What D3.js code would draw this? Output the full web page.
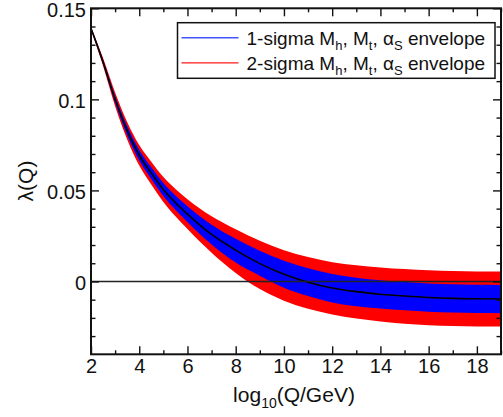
<!DOCTYPE html>
<html>
<head>
<meta charset="utf-8">
<script src="https://cdn.jsdelivr.net/npm/d3@7"></script>
<style>
  html, body { margin: 0; padding: 0; background: #fff; }
  svg { display: block; font-family: "Liberation Sans", Arial, Helvetica, sans-serif; }
</style>
</head>
<body>
<svg id="chart" width="503" height="417"></svg>
<script>
// Running quartic coupling lambda(Q) versus log10(Q/GeV)
const logQ = [2, 2.5, 3, 3.5, 4, 4.5, 5, 5.5, 6, 7, 8, 9, 10, 11, 12, 13, 14, 15, 16, 17, 18, 19];
const lambdaCentral = [0.139, 0.1205, 0.100, 0.0828, 0.0693, 0.0595, 0.0505, 0.0433, 0.0370, 0.0258, 0.0172, 0.0098, 0.0040, -0.0004, -0.0036, -0.0056, -0.0070, -0.0080, -0.0088, -0.0093, -0.0095, -0.0096];
const oneSigmaHigh = [0.1394, 0.1216, 0.1019, 0.0853, 0.0722, 0.0627, 0.0541, 0.0472, 0.0413, 0.0311, 0.0234, 0.0168, 0.0114, 0.0072, 0.0041, 0.0021, 0.0007, -0.0003, -0.0011, -0.0016, -0.0018, -0.0019];
const oneSigmaLow = [0.1386, 0.1194, 0.0981, 0.0803, 0.0664, 0.0563, 0.0469, 0.0394, 0.0327, 0.0203, 0.0104, 0.0032, -0.0034, -0.0080, -0.0115, -0.0136, -0.0149, -0.0158, -0.0166, -0.0171, -0.0173, -0.0174];
const twoSigmaHigh = [0.1398, 0.1227, 0.1038, 0.0876, 0.0749, 0.0657, 0.0573, 0.0508, 0.0452, 0.0358, 0.0287, 0.0224, 0.0172, 0.0134, 0.0106, 0.0089, 0.0077, 0.0068, 0.0061, 0.0057, 0.0055, 0.0054];
const twoSigmaLow = [0.1382, 0.1183, 0.0962, 0.0780, 0.0637, 0.0533, 0.0437, 0.0358, 0.0288, 0.0158, 0.0047, -0.0042, -0.0106, -0.0150, -0.0181, -0.0204, -0.0220, -0.0232, -0.0240, -0.0245, -0.0247, -0.0248];

const xMajorTicks = [2, 4, 6, 8, 10, 12, 14, 16, 18];
const xMinorTicks = [3, 5, 7, 9, 11, 13, 15, 17, 19];
const yMajorTicks = [0, 0.05, 0.1, 0.15];
const yMajorLabels = ["0", "0.05", "0.1", "0.15"];
const yMinorTicks = [-0.03, -0.02, -0.01, 0.01, 0.02, 0.03, 0.04, 0.06, 0.07, 0.08, 0.09, 0.11, 0.12, 0.13, 0.14];

const legendEntries = [
  { lead: "1-sigma M", color: "#4455ff", width: 1.5 },
  { lead: "2-sigma M", color: "#ff1a1a", width: 1.2 }
];

const svg = d3.select("#chart");
const x = d3.scaleLinear().domain([2, 19]).range([91, 501]);
const y = d3.scaleLinear().domain([-0.04, 0.15]).range([354.3, 8.3]);

const rows = logQ.map((q, i) => ({
  q, c: lambdaCentral[i],
  b1: oneSigmaLow[i], t1: oneSigmaHigh[i],
  b2: twoSigmaLow[i], t2: twoSigmaHigh[i]
}));

svg.append("defs").append("clipPath").attr("id", "plotClip")
  .append("rect")
  .attr("x", x(2)).attr("y", y(0.15))
  .attr("width", x(19) - x(2)).attr("height", y(-0.04) - y(0.15));

const plot = svg.append("g").attr("clip-path", "url(#plotClip)");
const curve = d3.curveMonotoneX;

plot.append("path").datum(rows)
  .attr("fill", "#ff0000")
  .attr("d", d3.area().curve(curve).x(d => x(d.q)).y0(d => y(d.b2)).y1(d => y(d.t2)));

plot.append("path").datum(rows)
  .attr("fill", "#0000ff")
  .attr("d", d3.area().curve(curve).x(d => x(d.q)).y0(d => y(d.b1)).y1(d => y(d.t1)));

plot.append("path").datum(rows)
  .attr("fill", "none").attr("stroke", "#000").attr("stroke-width", 1.6)
  .attr("d", d3.line().curve(curve).x(d => x(d.q)).y(d => y(d.c)));

// zero reference line
plot.append("line")
  .attr("x1", x(2)).attr("x2", x(19))
  .attr("y1", y(0)).attr("y2", y(0))
  .attr("stroke", "#222").attr("stroke-width", 1.4);

// axes with inward ticks on all four sides
function styleAxis(g) {
  g.select(".domain").remove();
  g.selectAll(".tick line").attr("stroke", "#111").attr("stroke-width", 1.4);
  g.selectAll(".tick text").attr("fill", "#111").style("font-size", "20px")
    .style("font-family", "'Liberation Sans', Arial, sans-serif");
}

svg.append("g").attr("transform", `translate(0,${y(-0.04)})`)
  .call(d3.axisBottom(x).tickValues(xMajorTicks).tickSize(-8).tickPadding(5).tickFormat(d3.format("d")))
  .call(styleAxis);
svg.append("g").attr("transform", `translate(0,${y(-0.04)})`)
  .call(d3.axisBottom(x).tickValues(xMinorTicks).tickSize(-4).tickFormat(""))
  .call(styleAxis);
svg.append("g").attr("transform", `translate(0,${y(0.15)})`)
  .call(d3.axisTop(x).tickValues(xMajorTicks).tickSize(-8).tickFormat(""))
  .call(styleAxis);
svg.append("g").attr("transform", `translate(0,${y(0.15)})`)
  .call(d3.axisTop(x).tickValues(xMinorTicks).tickSize(-4).tickFormat(""))
  .call(styleAxis);

svg.append("g").attr("transform", `translate(${x(2)},0)`)
  .call(d3.axisLeft(y).tickValues(yMajorTicks).tickSize(-8).tickPadding(5)
    .tickFormat((d, i) => yMajorLabels[i]))
  .call(styleAxis)
  .call(g => g.selectAll(".tick text").attr("dy", "0.4em"));
svg.append("g").attr("transform", `translate(${x(2)},0)`)
  .call(d3.axisLeft(y).tickValues(yMinorTicks).tickSize(-4.5).tickFormat(""))
  .call(styleAxis);
svg.append("g").attr("transform", `translate(${x(19)},0)`)
  .call(d3.axisRight(y).tickValues(yMajorTicks).tickSize(-8).tickFormat(""))
  .call(styleAxis);
svg.append("g").attr("transform", `translate(${x(19)},0)`)
  .call(d3.axisRight(y).tickValues(yMinorTicks).tickSize(-4.5).tickFormat(""))
  .call(styleAxis);

// frame
svg.append("rect")
  .attr("x", x(2)).attr("y", y(0.15))
  .attr("width", x(19) - x(2)).attr("height", y(-0.04) - y(0.15))
  .attr("fill", "none").attr("stroke", "#111").attr("stroke-width", 2);

// axis titles
const xt = svg.append("text")
  .attr("x", 294).attr("y", 402)
  .attr("text-anchor", "middle").style("font-size", "21px").attr("fill", "#111");
xt.append("tspan").text("log");
xt.append("tspan").attr("dy", 6).style("font-size", "14px").text("10");
xt.append("tspan").attr("dy", -6).text("(Q/GeV)");

svg.append("text")
  .attr("transform", "translate(33,181) rotate(-90)")
  .attr("text-anchor", "middle").style("font-size", "21px").attr("fill", "#111")
  .text("λ(Q)");

// legend
const lg = svg.append("g");
lg.append("rect")
  .attr("x", 177.5).attr("y", 22.7).attr("width", 317.5).attr("height", 55.6)
  .attr("fill", "#fff").attr("stroke", "#111").attr("stroke-width", 1.5);

legendEntries.forEach((e, i) => {
  const cy = 37.7 + i * 25.2;
  lg.append("line")
    .attr("x1", 181.5).attr("x2", 238.5).attr("y1", cy).attr("y2", cy)
    .attr("stroke", e.color).attr("stroke-width", e.width);
  const t = lg.append("text")
    .attr("x", 246.5).attr("y", cy + 6.8)
    .style("font-size", "19px").attr("fill", "#111");
  t.append("tspan").text(e.lead);
  t.append("tspan").attr("dy", 5).style("font-size", "13px").text("h");
  t.append("tspan").attr("dy", -5).text(", M");
  t.append("tspan").attr("dy", 5).style("font-size", "13px").text("t");
  t.append("tspan").attr("dy", -5).text(", α");
  t.append("tspan").attr("dy", 5).style("font-size", "13px").text("S");
  t.append("tspan").attr("dy", -5).text(" envelope");
});
</script>
</body>
</html>
